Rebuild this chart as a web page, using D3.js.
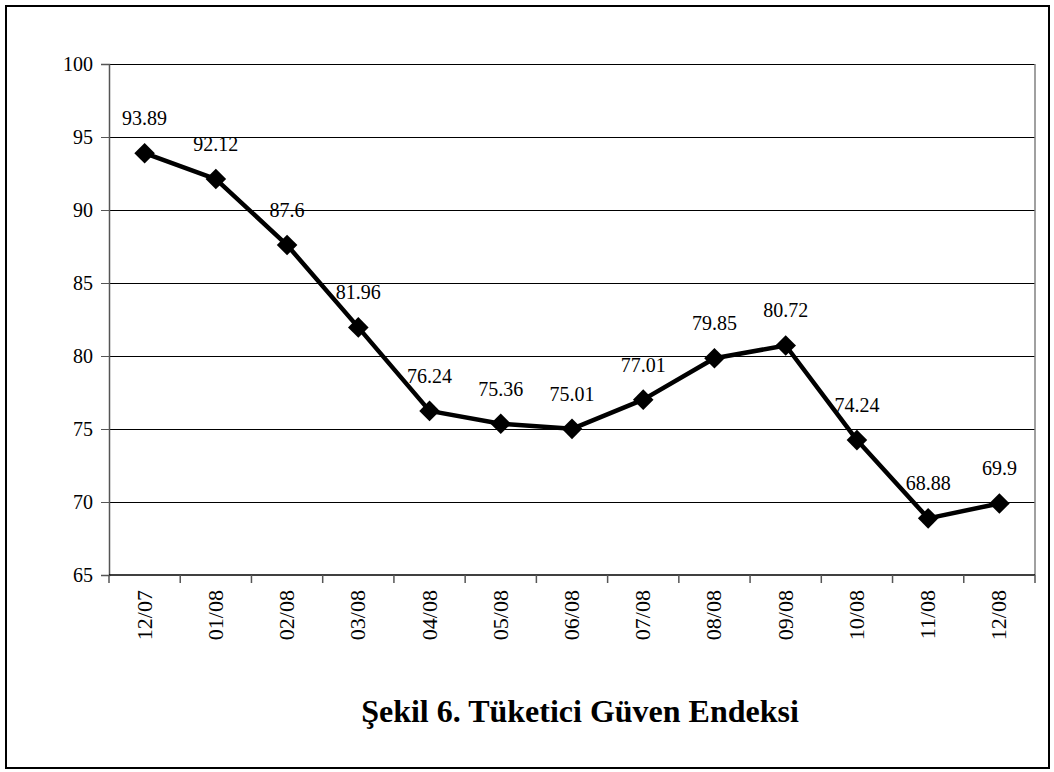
<!DOCTYPE html>
<html>
<head>
<meta charset="utf-8">
<script src="https://cdn.jsdelivr.net/npm/d3@7"></script>
<style>
  body { margin: 0; background: #fff; }
  svg text { font-family: "Liberation Serif", "Times New Roman", serif; fill: #000; }
</style>
</head>
<body>
<svg id="chart" width="1054" height="772"></svg>
<script>
const months = ["12/07", "01/08", "02/08", "03/08", "04/08", "05/08", "06/08",
  "07/08", "08/08", "09/08", "10/08", "11/08", "12/08"];
const values = [93.89, 92.12, 87.6, 81.96, 76.24, 75.36, 75.01, 77.01, 79.85, 80.72, 74.24, 68.88, 69.9];
const valueLabels = ["93.89", "92.12", "87.6", "81.96", "76.24", "75.36", "75.01",
  "77.01", "79.85", "80.72", "74.24", "68.88", "69.9"];
const yTicks = [65, 70, 75, 80, 85, 90, 95, 100];
const title = "Şekil 6. Tüketici Güven Endeksi";

const svg = d3.select("#chart");
const plotL = 109, plotR = 1035, plotT = 64, plotB = 575;

// outer frame
svg.append("rect")
  .attr("x", 6).attr("y", 6).attr("width", 1043).attr("height", 762)
  .attr("fill", "none").attr("stroke", "#000").attr("stroke-width", 2);

const x = d3.scaleBand().domain(months).range([plotL, plotR]);
const y = d3.scaleLinear().domain([65, 100]).range([plotB, plotT]);

// gridlines
svg.append("g").selectAll("line").data(yTicks.filter(t => t > 65))
  .join("line")
  .attr("x1", plotL).attr("x2", plotR)
  .attr("y1", d => y(d)).attr("y2", d => y(d))
  .attr("stroke", "#000").attr("stroke-width", 1)
  .attr("shape-rendering", "crispEdges");

// right border of plot
svg.append("line")
  .attr("x1", plotR).attr("x2", plotR).attr("y1", plotT).attr("y2", plotB)
  .attr("stroke", "#808080").attr("stroke-width", 1.5);

// y axis
const yAxis = svg.append("g")
  .attr("transform", `translate(${plotL},0)`)
  .call(d3.axisLeft(y).tickValues(yTicks).tickSize(8).tickPadding(8));
yAxis.attr("font-family", null);
yAxis.select(".domain").attr("stroke", "#555").attr("stroke-width", 1.5);
yAxis.selectAll(".tick line").attr("stroke", "#555");
yAxis.selectAll("text").style("font-size", "20px");

// x axis: ticks between categories
const xAxis = svg.append("g").attr("transform", `translate(0,${plotB})`);
xAxis.append("line")
  .attr("x1", plotL).attr("x2", plotR).attr("y1", 0).attr("y2", 0)
  .attr("stroke", "#000").attr("stroke-width", 1.5);
const edges = months.map(m => x(m)).concat([plotR]);
xAxis.selectAll(".edge").data(edges).join("line")
  .attr("class", "edge")
  .attr("x1", d => d).attr("x2", d => d).attr("y1", 0).attr("y2", 8)
  .attr("stroke", "#555").attr("stroke-width", 1.5);
xAxis.selectAll("text").data(months).join("text")
  .attr("transform", d => `translate(${x(d) + x.bandwidth() / 2 + 7},15) rotate(-90)`)
  .attr("text-anchor", "end")
  .style("font-size", "22px")
  .text(d => d);

// line
const cx = (d, i) => x(months[i]) + x.bandwidth() / 2;
const line = d3.line().x(cx).y(d => y(d));
svg.append("path").datum(values)
  .attr("d", line)
  .attr("fill", "none").attr("stroke", "#000").attr("stroke-width", 4.5)
  .attr("stroke-linejoin", "round");

// diamond markers
svg.append("g").selectAll("path").data(values).join("path")
  .attr("transform", (d, i) => `translate(${cx(d, i)},${y(d)})`)
  .attr("d", d3.symbol(d3.symbolDiamond2, 270)())
  .attr("fill", "#000");

// value labels
svg.append("g").selectAll("text").data(values).join("text")
  .attr("x", (d, i) => cx(d, i))
  .attr("y", d => y(d) - 28)
  .attr("text-anchor", "middle")
  .style("font-size", "20px")
  .text((d, i) => valueLabels[i]);

// caption
svg.append("text")
  .attr("x", 580).attr("y", 722)
  .attr("text-anchor", "middle")
  .style("font-size", "32px").style("font-weight", "bold")
  .text(title);
</script>
</body>
</html>
